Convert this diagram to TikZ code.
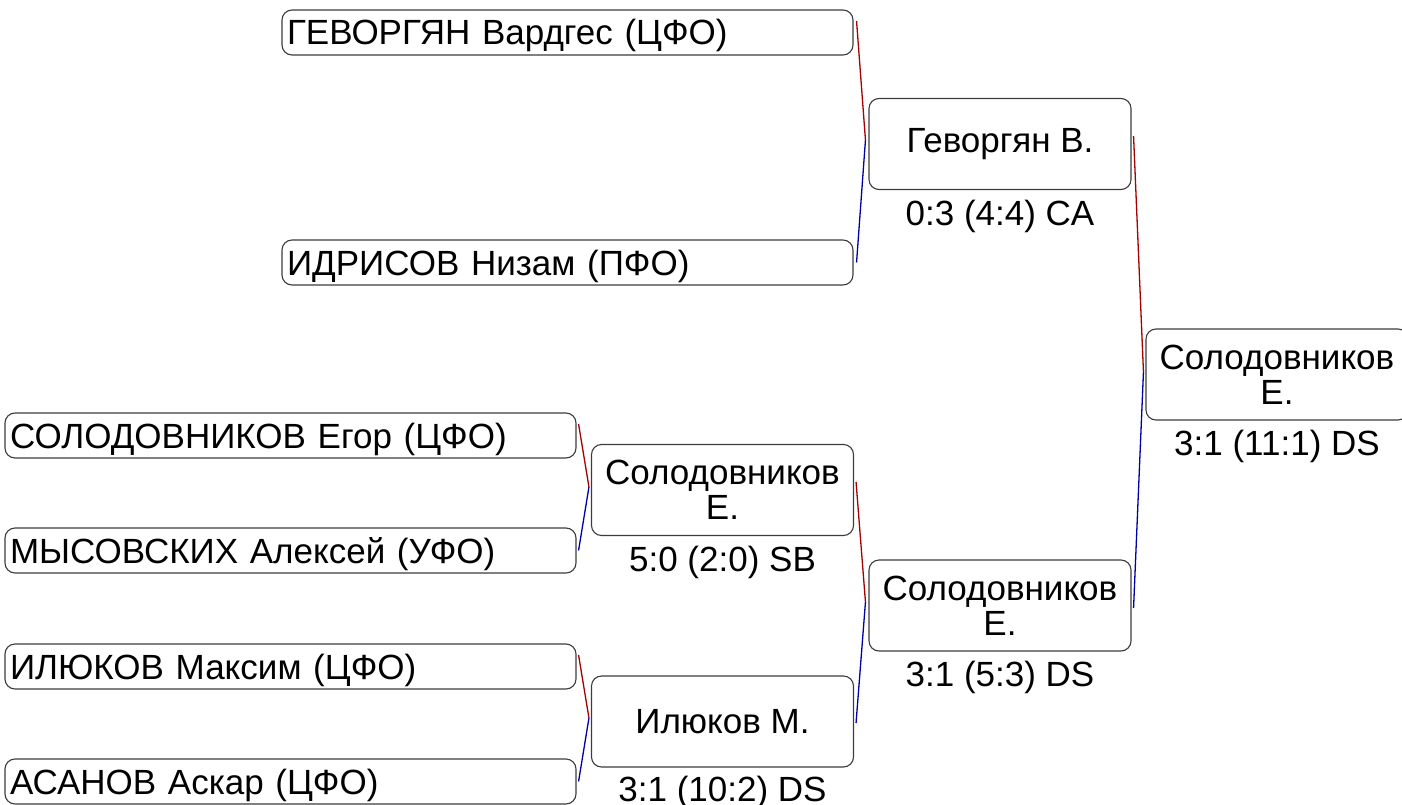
\documentclass[tikz,border=0pt]{standalone}
\usepackage{fontspec}
\setmainfont{Liberation Sans}
\usetikzlibrary{calc}
\definecolor{boxline}{RGB}{60,60,60}
\definecolor{redline}{RGB}{165,0,0}
\definecolor{blueline}{RGB}{0,0,165}
\begin{document}
\begin{tikzpicture}[x=1pt,y=-1pt,
  entrant/.style={draw=boxline, line width=1.1pt, rounded corners=10pt, rectangle,
    text width=561pt, inner xsep=5pt, inner ysep=0pt, minimum height=45pt,
    align=left, text height=25pt, text depth=0pt,
    font=\fontsize{35}{35}\selectfont},
  winner/.style={draw=boxline, line width=1.1pt, rounded corners=10pt, rectangle,
    minimum width=262pt, minimum height=91pt, inner sep=0pt, align=center,
    font=\fontsize{35}{35}\selectfont},
  score/.style={anchor=base, inner sep=0pt, font=\fontsize{35}{35}\selectfont},
  upper/.style={draw=redline, line width=1.3pt},
  lower/.style={draw=blueline, line width=1.3pt}]
\useasboundingbox (0,0) rectangle (1402,805);
% entrants
\node[entrant] (e1) at (567.5,32.5) {ГЕВОРГЯН Вардгес (ЦФО)};
\node[entrant] (e2) at (567.5,262.5) {ИДРИСОВ Низам (ПФО)};
\node[entrant] (e3) at (290.5,435.5) {СОЛОДОВНИКОВ Егор (ЦФО)};
\node[entrant] (e4) at (290.5,550.5) {МЫСОВСКИХ Алексей (УФО)};
\node[entrant] (e5) at (290.5,666.5) {ИЛЮКОВ Максим (ЦФО)};
\node[entrant] (e6) at (290.5,781.5) {АСАНОВ Аскар (ЦФО)};
% winners
\node[winner] (w1) at (722.5,490) {Солодовников\\Е.};
\node[winner] (w2) at (722.5,721.5) {Илюков М.};
\node[winner] (w3) at (1000,144) {Геворгян В.};
\node[winner] (w4) at (1000,605.5) {Солодовников\\Е.};
\node[winner] (w5) at (1277,374.5) {Солодовников\\Е.};
% scores
\node[score] (s1) at ($(w1.south)+(0,35)$) {5:0 (2:0) SB};
\node[score] (s2) at ($(w2.south)+(0,34)$) {3:1 (10:2) DS};
\node[score] (s3) at ($(w3.south)+(0,35)$) {0:3 (4:4) CA};
\node[score] (s4) at ($(w4.south)+(0,35)$) {3:1 (5:3) DS};
\node[score] (s5) at ($(w5.south)+(0,35)$) {3:1 (11:1) DS};
% connectors
\coordinate (j3) at ($(w3.west)+(-3,-4)$);
\draw[upper] ($(e1.east)+(3,-11.5)$) -- (j3);
\draw[lower] (j3) -- ($(e2.east)+(3,0)$);
\coordinate (j1) at ($(w1.west)+(-2,-3)$);
\draw[upper] ($(e3.east)+(2,-11.5)$) -- (j1);
\draw[lower] (j1) -- ($(e4.east)+(2,0)$);
\coordinate (j2) at ($(w2.west)+(-2,-3.5)$);
\draw[upper] ($(e5.east)+(2,-11.5)$) -- (j2);
\draw[lower] (j2) -- ($(e6.east)+(2,0)$);
\coordinate (j4) at ($(w4.west)+(-3,-3.5)$);
\draw[upper] ($(w1.east)+(2,-8)$) -- (j4);
\draw[lower] (j4) -- ($(w2.east)+(2,1.5)$);
\coordinate (j5) at ($(w5.west)+(-2,-2.5)$);
\draw[upper] ($(w3.east)+(2,-8)$) -- (j5);
\draw[lower] (j5) -- ($(w4.east)+(2,2.5)$);
\end{tikzpicture}
\end{document}
